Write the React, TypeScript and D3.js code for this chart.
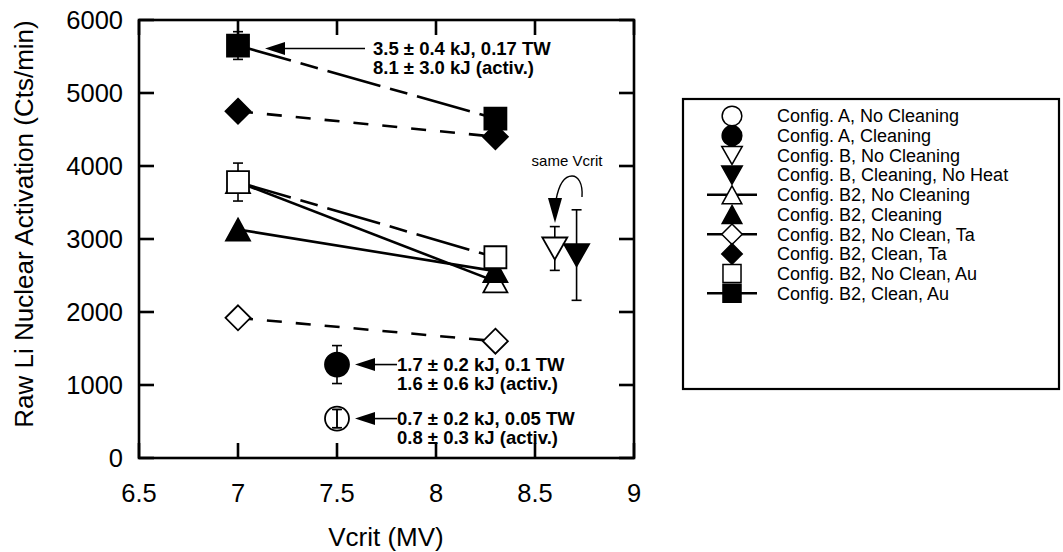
import React from "react";
import * as d3 from "d3";

const W = 1063, H = 552;
const FONT = "'Liberation Sans', Arial, Helvetica, sans-serif";

// axis ticks
const xTicks = [6.5, 7, 7.5, 8, 8.5, 9];
const yTicks = [0, 1000, 2000, 3000, 4000, 5000, 6000];

// points as [Vcrit (MV), counts, error]
const aNoClean = [[7.5, 540, 125]];
const aClean = [[7.5, 1280, 260]];
const bNoClean = [[8.6, 2870, 300]];
const bCleanNoHeat = [[8.71, 2780, 620]];
const b2NoClean = [[7, 3780, 0], [8.3, 2420, 0]];
const b2Clean = [[7, 3130, 0], [8.3, 2560, 190]];
const b2NoCleanTa = [[7, 1920, 0], [8.3, 1600, 0]];
const b2CleanTa = [[7, 4750, 0], [8.3, 4400, 0]];
const b2NoCleanAu = [[7, 3780, 260], [8.3, 2750, 0]];
const b2CleanAu = [[7, 5650, 190], [8.3, 4650, 0]];

const legendLabels = [
  "Config. A, No Cleaning",
  "Config. A, Cleaning",
  "Config. B, No Cleaning",
  "Config. B, Cleaning, No Heat",
  "Config. B2, No Cleaning",
  "Config. B2, Cleaning",
  "Config. B2, No Clean, Ta",
  "Config. B2, Clean, Ta",
  "Config. B2, No Clean, Au",
  "Config. B2, Clean, Au",
];

const note1 = ["3.5 \u00b1 0.4 kJ, 0.17 TW", "8.1 \u00b1 3.0 kJ (activ.)"];
const note2 = ["1.7 \u00b1 0.2 kJ, 0.1 TW", "1.6 \u00b1 0.6 kJ (activ.)"];
const note3 = ["0.7 \u00b1 0.2 kJ, 0.05 TW", "0.8 \u00b1 0.3 kJ (activ.)"];

// drawing style per series (same order as legend)
const series = [
  { data: aNoClean, shape: "circle", filled: false, dash: null, legendLine: false },
  { data: aClean, shape: "circle", filled: true, dash: null, legendLine: false },
  { data: bNoClean, shape: "down", filled: false, dash: null, legendLine: false },
  { data: bCleanNoHeat, shape: "down", filled: true, dash: null, legendLine: false },
  { data: b2NoClean, shape: "up", filled: false, dash: "none", legendLine: true },
  { data: b2Clean, shape: "up", filled: true, dash: "none", legendLine: false },
  { data: b2NoCleanTa, shape: "diamond", filled: false, dash: "15,14", legendLine: true },
  { data: b2CleanTa, shape: "diamond", filled: true, dash: "15,14", legendLine: false },
  { data: b2NoCleanAu, shape: "square", filled: false, dash: "55,10,18,10", legendLine: false },
  { data: b2CleanAu, shape: "square", filled: true, dash: "55,10,18,10", legendLine: true },
];

function markerPath(shape: string, k: number) {
  const p = d3.path();
  if (shape === "circle") {
    const r = 12 * k;
    p.arc(0, 0, r, 0, Math.PI * 2);
  } else if (shape === "square") {
    const h = 11 * k;
    p.rect(-h, -h, 2 * h, 2 * h);
  } else if (shape === "diamond") {
    const h = 12.5 * k;
    p.moveTo(0, -h); p.lineTo(h, 0); p.lineTo(0, h); p.lineTo(-h, 0); p.closePath();
  } else if (shape === "up") {
    const w = 12 * k, h = 11 * k;
    p.moveTo(0, -h); p.lineTo(w, h); p.lineTo(-w, h); p.closePath();
  } else {
    const w = 12.5 * k, h = 11 * k;
    p.moveTo(-w, -h); p.lineTo(w, -h); p.lineTo(0, h); p.closePath();
  }
  return p.toString();
}

const arrowHead = (tx: number, ty: number, dir: number) =>
  `M${tx},${ty} L${tx + dir * 20},${ty - 6.5} L${tx + dir * 20},${ty + 6.5} Z`;

export default function App() {
  const x = d3.scaleLinear().domain([6.5, 9]).range([139, 634]);
  const y = d3.scaleLinear().domain([0, 6000]).range([458, 20]);
  const [x0, x1] = x.range();
  const [y0, y1] = y.range();
  const line = d3.line<number[]>().x((d) => x(d[0])).y((d) => y(d[1]));

  const notes = [
    { lines: note1, pt: b2CleanAu[0], tipDx: 27, tipDy: 3, textX: 373 },
    { lines: note2, pt: aClean[0], tipDx: 18, tipDy: 0, textX: 397 },
    { lines: note3, pt: aNoClean[0], tipDx: 18, tipDy: 0, textX: 397 },
  ];

  return (
    <svg width={W} height={H} style={{ position: "absolute", left: 0, top: 0, background: "#fff" }}
      fontFamily={FONT}>
      {/* connecting lines */}
      {series.filter((s) => s.dash).map((s, i) => (
        <path key={"l" + i} d={line(s.data as number[][]) || ""} fill="none" stroke="#000"
          strokeWidth={2.6} strokeDasharray={s.dash === "none" ? undefined : s.dash} />
      ))}

      {/* error bars */}
      {series.flatMap((s, i) => (s.data as number[][]).filter((d) => d[2] > 0).map((d, j) => {
        const cx = x(d[0]), ya = y(d[1] + d[2]), yb = y(d[1] - d[2]);
        return (
          <g key={"e" + i + j} stroke="#000" strokeWidth={1.6}>
            <line x1={cx} x2={cx} y1={ya} y2={yb} />
            <line x1={cx - 5} x2={cx + 5} y1={ya} y2={ya} />
            <line x1={cx - 5} x2={cx + 5} y1={yb} y2={yb} />
          </g>
        );
      }))}

      {/* markers */}
      {series.flatMap((s, i) => (s.data as number[][]).map((d, j) => (
        <path key={"m" + i + j} d={markerPath(s.shape, 1)}
          transform={`translate(${x(d[0])},${y(d[1])})`}
          fill={s.filled ? "#000" : "#fff"} fillOpacity={s.filled ? 1 : (s.shape === "circle" ? 0 : 1)}
          stroke="#000" strokeWidth={1.8} />
      )))}
      {/* open circle error bar sits inside the marker */}
      {aNoClean.map((d, j) => {
        const cx = x(d[0]), ya = y(d[1] + d[2]), yb = y(d[1] - d[2]);
        return (
          <g key={"ec" + j} stroke="#000" strokeWidth={1.4}>
            <line x1={cx} x2={cx} y1={ya} y2={yb} />
            <line x1={cx - 4} x2={cx + 4} y1={ya} y2={ya} />
            <line x1={cx - 4} x2={cx + 4} y1={yb} y2={yb} />
          </g>
        );
      })}

      {/* frame */}
      <rect x={x0} y={y1} width={x1 - x0} height={y0 - y1} fill="none" stroke="#000" strokeWidth={2.6} />
      {xTicks.map((t) => (
        <g key={"xt" + t} stroke="#000" strokeWidth={2.6}>
          <line x1={x(t)} x2={x(t)} y1={y0} y2={y0 - 15} />
          <line x1={x(t)} x2={x(t)} y1={y1} y2={y1 + 15} />
        </g>
      ))}
      {yTicks.map((t) => (
        <g key={"yt" + t} stroke="#000" strokeWidth={2.6}>
          <line x1={x0} x2={x0 + 15} y1={y(t)} y2={y(t)} />
          <line x1={x1} x2={x1 - 15} y1={y(t)} y2={y(t)} />
        </g>
      ))}
      {xTicks.map((t) => (
        <text key={"xl" + t} x={x(t)} y={502} textAnchor="middle" fontSize={25.5}>{t}</text>
      ))}
      {yTicks.map((t) => (
        <text key={"yl" + t} x={123} y={y(t)} dy="0.35em" textAnchor="end" fontSize={25.5}>{t}</text>
      ))}
      <text x={386} y={546} textAnchor="middle" fontSize={26}>Vcrit (MV)</text>
      <text transform={`translate(33,224) rotate(-90)`} textAnchor="middle" fontSize={26}>
        Raw Li Nuclear Activation (Cts/min)
      </text>

      {/* annotations */}
      {notes.map((n, i) => {
        const tx = x(n.pt[0]) + n.tipDx, ty = y(n.pt[1]) + n.tipDy;
        return (
          <g key={"n" + i}>
            <path d={arrowHead(tx, ty, 1)} fill="#000" />
            <line x1={tx + 18} x2={i === 0 ? n.textX - 8 : n.textX} y1={ty} y2={ty} stroke="#000" strokeWidth={1.6} />
            {n.lines.map((t, k) => (
              <text key={k} x={n.textX} y={ty + 6 + k * 19} fontSize={18.5} fontWeight="bold">{t}</text>
            ))}
          </g>
        );
      })}

      {/* same Vcrit note */}
      <text x={567} y={166} textAnchor="middle" fontSize={15}>same Vcrit</text>
      <path d="M582,197 C583,183 578,176 572,176 C564,176 559,184 556,200" fill="none" stroke="#000" strokeWidth={1.4} />
      <path d="M555,223 L548,198 L562,198 Z" fill="#000" />

      {/* legend */}
      <rect x={683} y={99} width={376} height={290} fill="#fff" stroke="#000" strokeWidth={2.2} />
      {legendLabels.map((lab, i) => {
        const s = series[i];
        const ly = 116 + i * 19.7;
        return (
          <g key={"lg" + i}>
            {s.legendLine && <line x1={707} x2={757} y1={ly} y2={ly} stroke="#000" strokeWidth={2.6} />}
            <path d={markerPath(s.shape, 0.82)} transform={`translate(732,${ly})`}
              fill={s.filled ? "#000" : "#fff"} stroke="#000" strokeWidth={1.5} />
            <text x={777} y={ly} dy="0.35em" fontSize={18}>{lab}</text>
          </g>
        );
      })}
    </svg>
  );
}
